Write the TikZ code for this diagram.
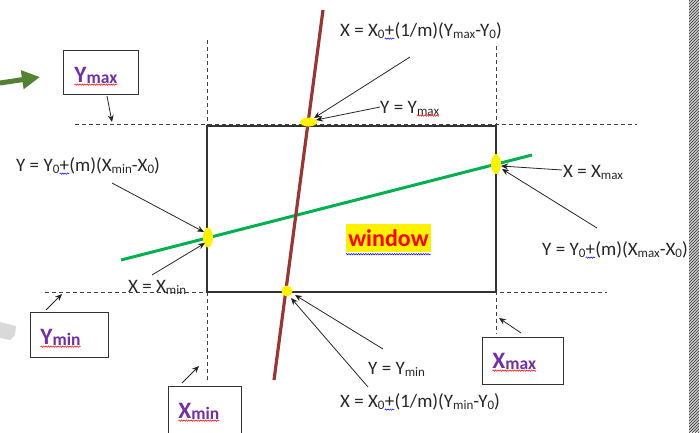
\documentclass[tikz,border=0pt]{standalone}
\usepackage{fontspec}
\setmainfont{Carlito}
\usetikzlibrary{arrows.meta,shapes.geometric,decorations.pathmorphing,patterns}
\definecolor{brn}{HTML}{953735}
\definecolor{lgreen}{HTML}{00B050}
\definecolor{vpurple}{HTML}{7030A0}
\definecolor{dgreen}{HTML}{548235}
\newcommand\lo[1]{\raisebox{-2pt}{\fontsize{13}{13}\selectfont #1}}
\newcommand\blo[1]{\raisebox{-1.5pt}{\fontsize{17.5}{17.5}\selectfont #1}}
\newcommand\wv[2]{\tikz[baseline=(wq.base)]{\node[inner sep=0pt,outer sep=0pt,draw=none,fill=none](wq){#2};\draw[#1,line width=0.5pt,fill=none,decorate,decoration={snake,amplitude=0.7pt,segment length=2.4pt}] ([yshift=-2.6pt]wq.base west) -- ([yshift=-2.6pt]wq.base east);}}
\begin{document}
\begin{tikzpicture}[x=1pt,y=-1pt,
  guide/.style={draw=black!75,dash pattern=on 4pt off 3pt,line width=0.8pt},
  win/.style={draw=black!80,line width=1.1pt},
  ptr/.style={draw=black!85,line width=0.8pt,-{Stealth[length=7pt,width=6pt]}},
  lbl/.style={font=\fontsize{19}{21}\selectfont,inner sep=0pt,anchor=base west,text=black!85},
  boxlbl/.style={font=\bfseries\fontsize{23.5}{25}\selectfont,text=vpurple,inner sep=0pt,anchor=base west},
  lblbox/.style={draw=black!80,line width=0.9pt,anchor=north west,inner sep=0pt},
  hit/.style={fill=yellow,draw=none,inner sep=0pt},
  squig/.style={decorate,decoration={snake,amplitude=0.7pt,segment length=2.4pt},line width=0.5pt}]
\useasboundingbox (0,0) rectangle (700,432);
% screenshot edge artefacts
\fill[black!20] (689,0) rectangle (699,432);
\fill[pattern=north east lines,pattern color=black!80] (689,0) rectangle (699,432);
\fill[black!15] (0,322) -- (16,326) -- (15,335) -- (10,340) -- (0,338) -- cycle;
\coordinate (ga) at (0,83);
\coordinate (gb) at (40,77);
\draw[dgreen,line width=5pt,-{Triangle[length=18pt,width=18pt]}] (ga) -- (gb);
% guide lines
\draw[guide] (75,124) -- (637,124);
\draw[guide] (45,292) -- (607,292);
\draw[guide] (207,40) -- (207,383);
\draw[guide] (496,46) -- (496,334);
% window
\draw[win] (207,126) rectangle (496,292);
\node[fill=yellow,inner sep=0pt,minimum width=85pt,minimum height=28pt,font=\bfseries\fontsize{24}{26}\selectfont,text=red] (winl) at (388.5,238) {window};
\draw[squig,blue] ([yshift=-2pt]winl.south west) -- ([yshift=-2pt]winl.south east);
% the two lines
\draw[lgreen,line width=3pt] (121,260) -- (532,155);
\draw[brn,line width=3.2pt] (323,10) -- (274,380);
% intersection points
\node[ellipse,hit,minimum width=17pt,minimum height=9pt] (p1) at (308.5,122) {};
\node[ellipse,hit,minimum width=10pt,minimum height=20pt] (p2) at (208,237.5) {};
\node[ellipse,hit,minimum width=10pt,minimum height=20pt] (p3) at (496,164) {};
\node[circle,hit,minimum size=11pt] (p4) at (287,291) {};
% labels
\node[lbl] (ftop) at (340,36) {X = X\lo{0}\wv{blue}{+}(1/m)(Y\lo{max}-Y\lo{0})};
\node[lbl] (fymax) at (380,113) {Y = Y\wv{red}{\lo{max}}};
\node[lbl] (fleft) at (16,171) {Y = Y\lo{0}\wv{blue}{+}(m)(X\lo{min}-X\lo{0})};
\node[lbl] (fxmax) at (563,177) {X = X\lo{max}};
\node[lbl] (fright) at (542,255) {Y = Y\lo{0}\wv{blue}{+}(m)(X\lo{max}-X\lo{0})};
\node[lbl] (fxmin) at (128,292) {X = X\lo{min}};
\node[lbl] (fymin) at (368,374) {Y = Y\lo{min}};
\node[lbl] (fbot) at (340,407) {X = X\lo{0}\wv{blue}{+}(1/m)(Y\lo{min}-Y\lo{0})};
% label arrows
\coordinate (t1) at (410,57);   \coordinate (h1) at (314,118);
\coordinate (t2) at (380,107);  \coordinate (h2) at (316,120);
\coordinate (t3) at (112,183);  \coordinate (h3) at (204,232);
\coordinate (t4) at (152,275);  \coordinate (h4) at (205,243);
\coordinate (t5) at (562,170);  \coordinate (h5) at (501,166);
\coordinate (t6) at (597,228);  \coordinate (h6) at (502,169);
\coordinate (t7) at (383,349);  \coordinate (h7) at (295,295);
\coordinate (t8) at (368,387);  \coordinate (h8) at (291,298);
\draw[ptr] (t1) -- (h1);
\draw[ptr] (t2) -- (h2);
\draw[ptr] (t3) -- (h3);
\draw[ptr] (t4) -- (h4);
\draw[ptr] (t5) -- (h5);
\draw[ptr] (t6) -- (h6);
\draw[ptr] (t7) -- (h7);
\draw[ptr] (t8) -- (h8);
% boundary boxes
\node[lblbox,minimum width=75pt,minimum height=44pt] (bymax) at (63,50) {};
\node[boxlbl] (lymax) at (74,82) {\wv{red}{Y\blo{max}}};
\node[lblbox,minimum width=78pt,minimum height=45pt] (bymin) at (30,312) {};
\node[boxlbl] (lymin) at (40,344) {\wv{red}{Y\blo{min}}};
\node[lblbox,minimum width=73pt,minimum height=60pt] (bxmin) at (168,386) {};
\node[boxlbl] (lxmin) at (178,418) {\wv{red}{X\blo{min}}};
\node[lblbox,minimum width=81pt,minimum height=47pt] (bxmax) at (482,337) {};
\node[boxlbl] (lxmax) at (492,368) {\wv{red}{X\blo{max}}};
\coordinate (b1) at (107,96);  \coordinate (g1) at (112,122);
\coordinate (b2) at (46,310);  \coordinate (g2) at (62,294);
\coordinate (b3) at (182,383); \coordinate (g3) at (199,366);
\coordinate (b4) at (521,333); \coordinate (g4) at (499,318);
\draw[ptr] (b1) -- (g1);
\draw[ptr] (b2) -- (g2);
\draw[ptr] (b3) -- (g3);
\draw[ptr] (b4) -- (g4);
\end{tikzpicture}
\end{document}
